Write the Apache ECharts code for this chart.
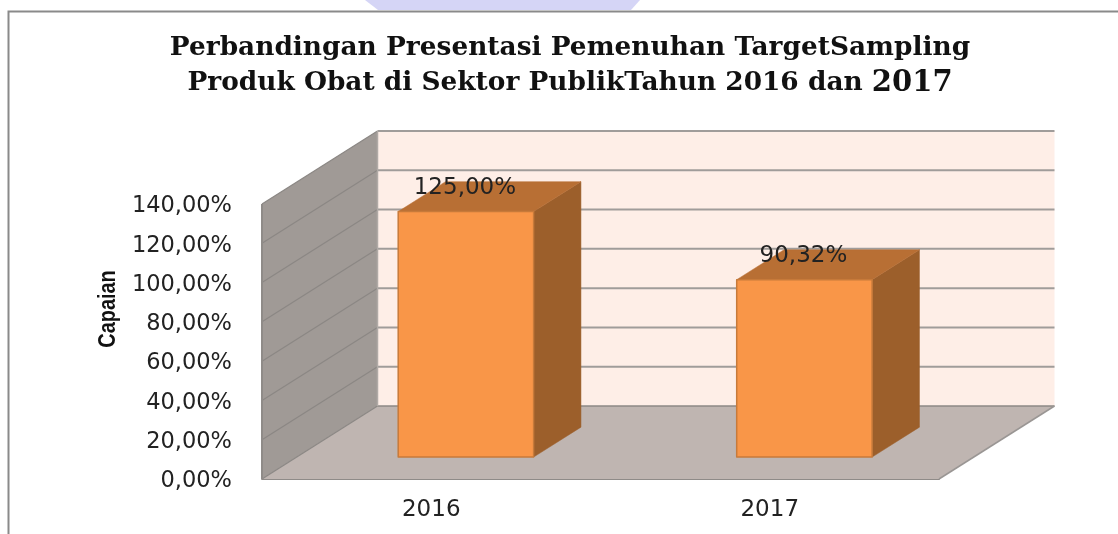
<!DOCTYPE html>
<html>
<head>
<meta charset="utf-8">
<style>html,body{margin:0;padding:0;background:#fff}#c{width:1118px;height:534px}</style>
<script src="https://cdn.jsdelivr.net/npm/echarts@6/dist/echarts.min.js"></script>
</head>
<body>
<div id="c"></div>
<script>
const categories = ['2016', '2017'];
const values = [125.00, 90.32];
const yTicks = [0, 20, 40, 60, 80, 100, 120, 140];
const titleLine1 = 'Perbandingan Presentasi Pemenuhan TargetSampling';
const titleLine2 = 'Produk Obat di Sektor PublikTahun 2016 dan ';
const titleBig = '2017';
const yName = 'Capaian';

const fmt = v => v.toFixed(2).replace('.', ',') + '%';
const DX = 115.5, DY = -73;           // oblique projection of the chart depth
const D0 = 0.30, D1 = 0.71;           // bar front and back depth fractions
const BAR = 0.40;                     // bar width as a fraction of the band
const FONT = '"DejaVu Sans"';
const pts = a => a.map(p => [p[0], p[1]]);

function renderWalls(params, api) {
  const cs = params.coordSys;
  const L = cs.x, R = cs.x + cs.width;
  const y0 = api.coord([0, yTicks[0]])[1];
  const yTop = api.coord([0, yTicks[yTicks.length - 1]])[1];
  const kids = [];
  const poly = (points, fill) => kids.push({type: 'polygon', shape: {points: pts(points)}, style: {fill: fill, stroke: null}});
  const line = (a, b, color, w) => kids.push({type: 'line', shape: {x1: a[0], y1: a[1], x2: b[0], y2: b[1]}, style: {stroke: color, lineWidth: w}});
  poly([[L + DX, yTop + DY], [R + DX, yTop + DY], [R + DX, y0 + DY], [L + DX, y0 + DY]], '#feeee7');
  poly([[L, y0], [L + DX, y0 + DY], [L + DX, yTop + DY], [L, yTop]], '#a09a96');
  poly([[L, y0], [R, y0], [R + DX, y0 + DY], [L + DX, y0 + DY]], '#bfb5b1');
  yTicks.forEach(t => {
    const y = api.coord([0, t])[1];
    if (t > 0) {
      line([L, y], [L + DX, y + DY], '#8b8784', 1.2);
      line([L + DX, y + DY], [R + DX, y + DY], '#a09c9a', 2);
    } else {
      line([L, y], [L + DX, y + DY], '#8b8784', 1.2);
      line([L + DX, y + DY], [R + DX, y + DY], '#8c8886', 1.5);
      line([R, y], [R + DX, y + DY], '#9a9694', 1.5);
    }
  });
  line([L + DX, y0 + DY], [L + DX, yTop + DY], '#b0aaa6', 1.5);
  line([L, y0], [L, yTop], '#8f8b88', 2);
  return {type: 'group', children: kids};
}

function renderBar(params, api) {
  const i = api.value(0), v = api.value(1);
  const top = api.coord([i, v]), base = api.coord([i, 0]);
  const band = api.size([1, 0])[0];
  const w = band * BAR;
  const fx = top[0] - w / 2 + DX * D0, bx = fx + w;
  const fb = base[1] + DY * D0, ft = top[1] + DY * D0;
  const ox = DX * (D1 - D0), oy = DY * (D1 - D0);
  const edge = {stroke: '#c77a3a', lineWidth: 1.5, lineJoin: 'round'};
  const poly = (p, fill, style) => ({type: 'polygon', shape: {points: p}, style: Object.assign({fill: fill}, style || {stroke: fill, lineWidth: 0.5})});
  return {type: 'group', children: [
    poly([[bx, fb], [bx + ox, fb + oy], [bx + ox, ft + oy], [bx, ft]], '#9c5f2b'),
    poly([[fx, ft], [bx, ft], [bx + ox, ft + oy], [fx + ox, ft + oy]], '#b86f34'),
    {type: 'rect', shape: {x: fx, y: ft, width: w, height: fb - ft}, style: Object.assign({fill: '#f99648'}, edge)},
    {type: 'text', style: {text: fmt(v), x: fx + w / 2 - 1, y: ft - 24, align: 'center', verticalAlign: 'middle',
      font: '23px ' + FONT, fill: '#222'}}
  ]};
}

const chart = echarts.init(document.getElementById('c'), null, {renderer: 'canvas'});
chart.setOption({
  animation: false,
  backgroundColor: '#fff',
  title: {
    left: 565, top: 26, textAlign: 'center',
    text: titleLine1 + '\n' + titleLine2 + '{big|' + titleBig + '}',
    textStyle: {
      fontFamily: '"DejaVu Serif"', fontWeight: 'bold', fontSize: 26.4, color: '#111', lineHeight: 35,
      rich: {big: {fontFamily: '"DejaVu Serif"', fontWeight: 'bold', fontSize: 29, color: '#111', lineHeight: 35}}
    }
  },
  graphic: [
    {type: 'polygon', z: -1, silent: true, shape: {points: [[365, 0], [640, 0], [631, 10], [378, 10]]}, style: {fill: '#d5d5f6'}},
    {type: 'polyline', z: -1, silent: true, shape: {points: [[8.5, 534], [8.5, 11.5], [1118, 11.5]]}, style: {fill: null, stroke: '#8a8a8a', lineWidth: 2}},
    {type: 'text', x: 108, y: 309, rotation: Math.PI / 2, scaleX: 0.83, silent: true,
      style: {text: yName, align: 'center', verticalAlign: 'middle', font: 'bold 24px "Liberation Sans"', fill: '#111'}}
  ],
  grid: {left: 262, right: 179, top: 204, bottom: 55, containLabel: false},
  xAxis: {
    type: 'category', data: categories,
    axisTick: {show: false},
    axisLine: {show: true, lineStyle: {color: '#8f8b88', width: 2}},
    axisLabel: {fontFamily: FONT, fontSize: 23, color: '#222', margin: 20}
  },
  yAxis: {
    type: 'value', min: 0, max: 140, interval: 20,
    axisLine: {show: false}, axisTick: {show: false}, splitLine: {show: false},
    axisLabel: {fontFamily: FONT, fontSize: 22.5, color: '#222', margin: 30, verticalAlign: 'top', lineHeight: 5, formatter: fmt}
  },
  series: [
    {type: 'custom', silent: true, clip: false, z: 1, renderItem: renderWalls, data: [[0, 0]], encode: {x: 0, y: 1}},
    {type: 'custom', silent: true, clip: false, z: 2, renderItem: renderBar,
      data: values.map((v, i) => [i, v]), encode: {x: 0, y: 1}}
  ]
});
</script>
</body>
</html>
